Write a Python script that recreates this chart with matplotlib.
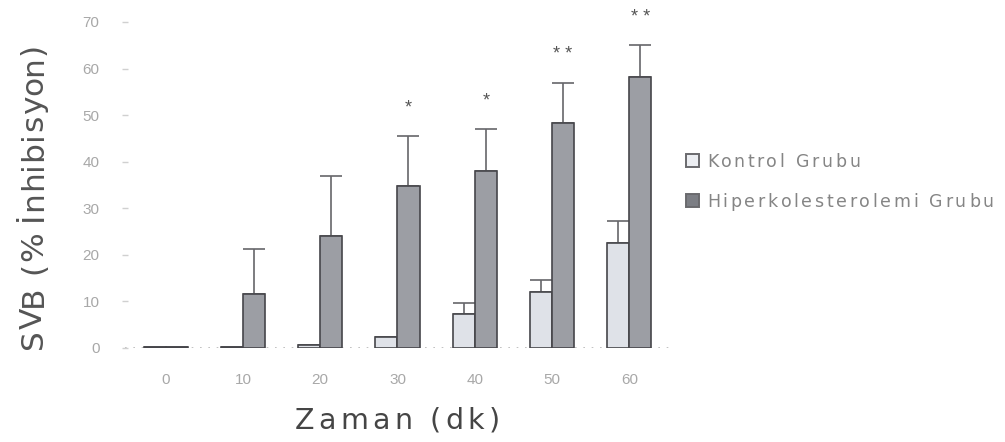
import matplotlib
matplotlib.use('Agg')
import matplotlib.pyplot as plt
from matplotlib.font_manager import FontProperties
from matplotlib.patches import Rectangle
from matplotlib.transforms import IdentityTransform
import numpy as np

plt.rcParams['font.family'] = ['Liberation Sans', 'DejaVu Sans']

# time points (min) and group means / SD (% inhibition)
times = ['0', '10', '20', '30', '40', '50', '60']
kontrol = [0.2, 0.3, 0.6, 2.4, 7.2, 12.0, 22.5]
kontrol_err = [0.0, 0.0, 0.0, 0.0, 2.4, 2.5, 4.7]
hiper = [0.2, 11.5, 24.0, 34.7, 38.0, 48.2, 58.1]
hiper_err = [0.0, 9.7, 13.0, 10.8, 9.0, 8.7, 6.9]
signif = ['', '', '', '*', '*', '* *', '* *']

labels = ['Kontrol Grubu', 'Hiperkolesterolemi Grubu']
colors = ['#dfe2e8', '#9c9ea4']
edge = '#46464a'


def tracked_text(fig, x, y, s, size, color, track, vertical=False, ha='left'):
    """Draw s one glyph at a time (pixel coords) with extra letter spacing."""
    prop = FontProperties(family='DejaVu Sans', size=size)
    r = fig.canvas.get_renderer()
    xw = r.get_text_width_height_descent('x', prop, ismath=False)[0]

    def adv(t):
        return r.get_text_width_height_descent(t + 'x', prop, ismath=False)[0] - xw

    total = adv(s) + track * (len(s) - 1)
    base = y if vertical else x
    start = base - total / 2 if ha == 'center' else base
    for i, ch in enumerate(s):
        d = start + adv(s[:i]) + track * i
        if vertical:
            fig.text(x, d, ch, fontproperties=prop, color=color, rotation=90,
                     rotation_mode='anchor', ha='left', va='baseline',
                     transform=IdentityTransform())
        else:
            fig.text(d, y, ch, fontproperties=prop, color=color, ha='left',
                     va='baseline', transform=IdentityTransform())
    return total


fig = plt.figure(figsize=(10.05, 4.42), dpi=100)
ax = fig.add_axes([0.124, 0.2127, 0.543, 0.7376])

x = np.arange(len(times))
w = 0.285

ax.bar(x - w / 2, kontrol, w, color=colors[0], edgecolor=edge, linewidth=1.2, zorder=3)
ax.bar(x + w / 2, hiper, w, color=colors[1], edgecolor=edge, linewidth=1.2, zorder=3)

# upper-only error bars
ax.errorbar(x - w / 2, kontrol, yerr=[np.zeros(len(x)), kontrol_err], fmt='none',
            ecolor='#66666a', elinewidth=1.2, capsize=7.9, capthick=1.2, zorder=2)
ax.errorbar(x + w / 2, hiper, yerr=[np.zeros(len(x)), hiper_err], fmt='none',
            ecolor='#66666a', elinewidth=1.2, capsize=7.9, capthick=1.2, zorder=2)

for xi, h, e, s in zip(x, hiper, hiper_err, signif):
    if s:
        ax.text(xi + w / 2, h + e + 4.2, s, ha='center', va='bottom', fontsize=13,
                color='#555555', clip_on=False)

ax.axhline(0, color='#b8b8b8', linestyle=(0, (1, 4)), linewidth=1.2, zorder=1)

ax.set_xlim(-0.53, 6.53)
ax.set_ylim(0, 70)
ax.set_yticks(range(0, 71, 10))
ax.set_xticks(x)
ax.set_xticklabels(times)
for sp in ax.spines.values():
    sp.set_visible(False)
ax.tick_params(axis='y', direction='inout', length=4, width=1, color='#d0d0d0',
               labelcolor='#a8a8a8', labelsize=11, pad=16)
ax.tick_params(axis='x', length=0, labelcolor='#a8a8a8', labelsize=11, pad=18)

# axis titles and legend, drawn with letter spacing
tracked_text(fig, 42, 246, 'SVB (% İnhibisyon)', 22.5, '#555555', 0.6,
             vertical=True, ha='center')
tracked_text(fig, 397, 13, 'Zaman (dk)', 20.5, '#454545', 4.3, ha='center')

legend_fill = ['#eceef2', '#7c7e84']
legend_base = [275, 235]
for lab, fc, yb in zip(labels, legend_fill, legend_base):
    fig.patches.append(Rectangle((686, yb), 13, 13, facecolor=fc, edgecolor='#6a6a6e',
                                 linewidth=1.4, transform=IdentityTransform(),
                                 figure=fig))
    tracked_text(fig, 707, yb, lab, 12.5, '#858585', 2.7)

fig.savefig('out.png', dpi=100)
